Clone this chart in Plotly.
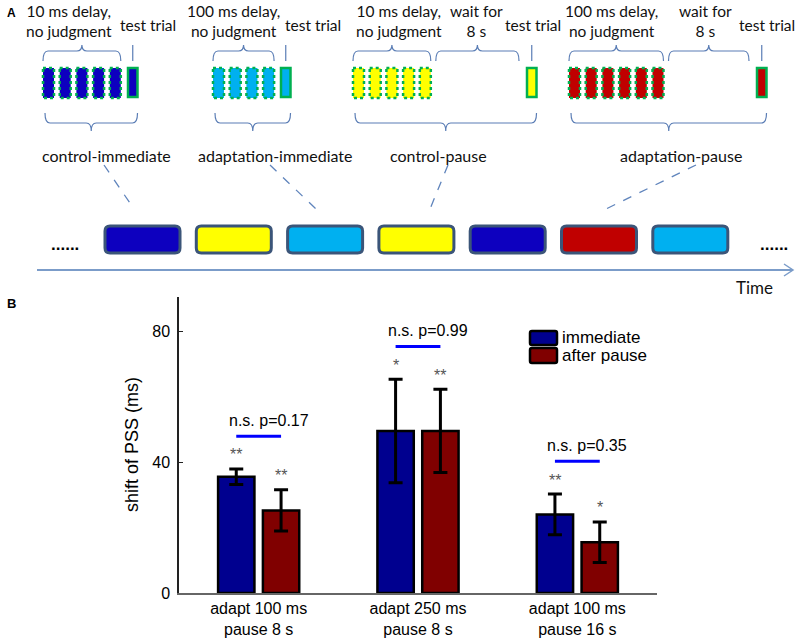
import plotly.graph_objects as go

# ---------------- Panel B data ----------------
group_labels = ["adapt 100 ms<br>pause 8 s", "adapt 250 ms<br>pause 8 s", "adapt 100 ms<br>pause 16 s"]
group_pos = [1, 2, 3]
series_names = ["immediate", "after pause"]
immediate = [35.5, 49.5, 24.0]
immediate_err = [2.4, 15.8, 6.2]
after_pause = [25.2, 49.5, 15.5]
after_pause_err = [6.3, 12.7, 6.2]
immediate_sig = ["**", "*", "**"]
after_pause_sig = ["**", "**", "*"]
p_values = ["0.17", "0.99", "0.35"]
y_tick_values = [0, 40, 80]
y_title = "shift of PSS (ms)"

# ---------------- Panel A data ----------------
conditions = ["control-immediate", "adaptation-immediate", "control-pause", "adaptation-pause"]
condition_color = ["blue", "cyan", "yellow", "red"]
adapt_text = ["10 ms delay,<br>no judgment", "100 ms delay,<br>no judgment",
              "10 ms delay,<br>no judgment", "100 ms delay,<br>no judgment"]
n_adapt_trials = [5, 4, 5, 6]
has_pause = [False, False, True, True]
pause_text = "wait for<br>8 s"
test_label = "test trial"
block_sequence = ["blue", "yellow", "cyan", "yellow", "blue", "red", "cyan"]
linked_block = [0, 2, 3, 5]

palette = {"blue": "#0D00BF", "yellow": "#FFFF00", "cyan": "#00B0F0", "red": "#C00000"}
series_colors = ["#00008F", "#800000"]

# ---------------- layout constants (pixels) ----------------
W, H = 797, 639
FA = "Lato, 'Open Sans', sans-serif"
FB = "'Liberation Sans', Arial, sans-serif"
brace_col = "#5A7DB5"
green = "#00B050"

trial_x0 = [43, 213, 353, 569]
trial_pitch, trial_w, trial_y = 16.7, 11, (68, 98)
test_x0 = [128, 281, 527, 757]
test_w, test_y = 9.5, (68, 97)
delay_text_x = [69, 233, 399, 611]
test_text_x = [148, 313, 533, 767]
pause_text_x = [None, None, 476, 705]
label_x = [106, 275, 438, 681]
link_start_x = [104, 270, 448, 696]
link_end_x = [134, 316, 430, 606]
block_x0, block_pitch, block_w, block_y = 105, 91.3, 75, (226, 253)

shapes = []
annotations = []


def px_text(x, y, text, size=16, font=FA, color="#111111", xanchor="center", bold=False, angle=0):
    annotations.append(dict(x=x, y=y, xref="x2", yref="y2", text=f"<b>{text}</b>" if bold else text,
                            showarrow=False, xanchor=xanchor, yanchor="middle", textangle=angle,
                            font=dict(family=font, size=size, color=color)))


def rounded_path(x0, y0, x1, y1, r):
    return (f"M{x0+r},{y0} L{x1-r},{y0} Q{x1},{y0} {x1},{y0+r} L{x1},{y1-r} Q{x1},{y1} {x1-r},{y1} "
            f"L{x0+r},{y1} Q{x0},{y1} {x0},{y1-r} L{x0},{y0+r} Q{x0},{y0} {x0+r},{y0} Z")


def brace(xa, xb, xc, y_line, y_end, y_tip):
    rr = 5
    return (f"M{xa},{y_end} Q{xa},{y_line} {xa+rr},{y_line} L{xc-rr},{y_line} Q{xc},{y_line} {xc},{y_tip} "
            f"Q{xc},{y_line} {xc+rr},{y_line} L{xb-rr},{y_line} Q{xb},{y_line} {xb},{y_end}")


def add_path(path, color, width, fill=None, dash="solid"):
    shapes.append(dict(type="path", path=path, xref="x2", yref="y2",
                       line=dict(color=color, width=width, dash=dash),
                       fillcolor=fill if fill else "rgba(0,0,0,0)"))


# ---- Panel A: conditions ----
for i, cond in enumerate(conditions):
    col = palette[condition_color[i]]
    for k in range(n_adapt_trials[i]):
        x = trial_x0[i] + k * trial_pitch
        shapes.append(dict(type="rect", xref="x2", yref="y2", x0=x, x1=x + trial_w,
                           y0=trial_y[0], y1=trial_y[1], fillcolor=col,
                           line=dict(color=green, width=2.5, dash="dot")))
    adapt_end = trial_x0[i] + (n_adapt_trials[i] - 1) * trial_pitch + trial_w
    tx = test_x0[i]
    shapes.append(dict(type="rect", xref="x2", yref="y2", x0=tx, x1=tx + test_w,
                       y0=test_y[0], y1=test_y[1], fillcolor=col, line=dict(color=green, width=2.5)))
    tc = tx + test_w / 2
    shapes.append(dict(type="line", xref="x2", yref="y2", x0=tc, x1=tc, y0=45, y1=61,
                       line=dict(color=brace_col, width=1.2)))
    add_path(brace(trial_x0[i], adapt_end, (trial_x0[i] + adapt_end) / 2, 51, 61, 45), brace_col, 1.2)
    px_text(delay_text_x[i], 20.5, adapt_text[i], size=15.5)
    px_text(test_text_x[i], 25, test_label, size=15.5)
    if has_pause[i]:
        pa, pb = adapt_end + 5, tx - 8
        add_path(brace(pa, pb, (pa + pb) / 2, 51, 61, 45), brace_col, 1.2)
        px_text(pause_text_x[i], 20.5, pause_text, size=15.5)
    ba, bb = trial_x0[i] + 2, tx + test_w
    add_path(brace(ba, bb, (ba + bb) / 2, 123, 113, 131), brace_col, 1.2)
    px_text(label_x[i], 155, cond)
    shapes.append(dict(type="line", xref="x2", yref="y2", x0=link_start_x[i], y0=165,
                       x1=link_end_x[i], y1=209, line=dict(color="#5F84BC", width=1.3, dash="dash")))

# ---- Panel A: block sequence ----
for j, name in enumerate(block_sequence):
    x0 = block_x0 + j * block_pitch
    add_path(rounded_path(x0, block_y[0], x0 + block_w, block_y[1], 5), "#3B5579", 3, fill=palette[name])

px_text(65, 244, "......", size=17, font=FB, color="black", bold=True)
px_text(774, 244, "......", size=17, font=FB, color="black", bold=True)
shapes.append(dict(type="line", xref="x2", yref="y2", x0=37, x1=793, y0=270, y1=270,
                   line=dict(color="#7B9CC9", width=2)))
add_path("M784,264 L793,270 L784,276", "#7B9CC9", 1.5)
px_text(754, 287, "Time", size=17)
px_text(11, 13, "A", size=12, font=FB, color="black", bold=True)
px_text(11, 303, "B", size=13, font=FB, color="black", bold=True)

# ---------------- Panel B ----------------
fig = go.Figure()
bargap, bargroupgap = 0.4375, 0.189
half_slot = (1 - bargap) / 4  # offset of each bar centre from the group centre

for name, vals, errs, color in [(series_names[0], immediate, immediate_err, series_colors[0]),
                                (series_names[1], after_pause, after_pause_err, series_colors[1])]:
    fig.add_trace(go.Bar(
        x=group_pos, y=vals, name=name, showlegend=False,
        marker=dict(color=color, line=dict(color="black", width=2.5)),
        error_y=dict(type="data", array=errs, color="black", thickness=3, width=7),
    ))

fig.add_trace(go.Scatter(x=[], y=[], xaxis="x2", yaxis="y2", showlegend=False, hoverinfo="skip"))

for i, g in enumerate(group_pos):
    top_i = immediate[i] + immediate_err[i]
    top_p = after_pause[i] + after_pause_err[i]
    annotations.append(dict(x=g - half_slot, y=top_i, xref="x", yref="y", text=immediate_sig[i],
                            showarrow=False, yshift=14, font=dict(family=FB, size=16, color="#555555")))
    annotations.append(dict(x=g + half_slot, y=top_p, xref="x", yref="y", text=after_pause_sig[i],
                            showarrow=False, yshift=14, font=dict(family=FB, size=16, color="#555555")))
    line_y = max(top_i, top_p) + 10
    shapes.append(dict(type="line", xref="x", yref="y", x0=g - half_slot, x1=g + half_slot,
                       y0=line_y, y1=line_y, line=dict(color="#0000FF", width=3)))
    annotations.append(dict(x=g, y=line_y, xref="x", yref="y", text=f"n.s. p={p_values[i]}",
                            showarrow=False, xshift=10, yshift=16,
                            font=dict(family=FB, size=16, color="black")))

# legend (drawn)
leg_rows = [(331, 345, 337), (348, 363, 355)]
for k, (y0, y1, yc) in enumerate(leg_rows):
    add_path(rounded_path(530, y0, 557, y1, 2), "black", 2.5, fill=series_colors[k])
    px_text(560, yc, series_names[k], size=17, font=FB, color="black", xanchor="left")

px_text(132, 445, y_title, size=18, font=FB, color="black", angle=-90)

fig.update_layout(
    width=W, height=H, margin=dict(l=0, r=0, t=0, b=0),
    paper_bgcolor="white", plot_bgcolor="rgba(0,0,0,0)",
    barmode="group", bargap=bargap, bargroupgap=bargroupgap,
    xaxis=dict(domain=[179 / W, 657 / W], range=[0.5, 3.5], tickvals=group_pos, ticktext=group_labels,
               showline=True, linecolor="#666666", linewidth=1.5, ticks="", showgrid=False,
               zeroline=False, tickfont=dict(family=FB, size=16, color="black"), automargin=False,
               anchor="y"),
    yaxis=dict(domain=[46 / H, 342 / H], range=[0, 90.4], tickvals=y_tick_values, showline=True,
               linecolor="#222222", linewidth=1.5, ticks="inside", ticklen=4, tickcolor="#222222",
               showgrid=False, zeroline=False, tickfont=dict(family=FB, size=16, color="black"),
               automargin=False, ticklabelstandoff=4, anchor="x"),
    xaxis2=dict(domain=[0, 1], range=[0, W], visible=False, anchor="y2", fixedrange=True),
    yaxis2=dict(domain=[0, 1], range=[H, 0], visible=False, anchor="x2", fixedrange=True),
    shapes=shapes, annotations=annotations,
)

fig.write_html("out.html", config={"displayModeBar": False},
               post_script="document.body.style.margin='0';document.body.style.overflow='hidden';")
